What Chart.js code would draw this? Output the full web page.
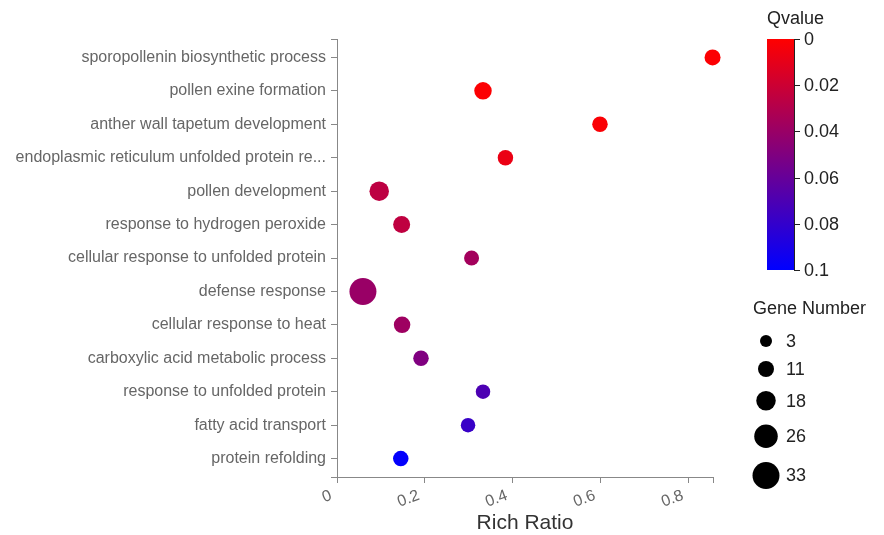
<!DOCTYPE html>
<html lang="en">
<head>
  <meta charset="UTF-8">
  <title>GO enrichment bubble chart</title>
  <script src="https://cdn.jsdelivr.net/npm/chart.js"></script>
  <style>
    body { margin: 0; background: #fff; }
    #wrap { width: 884px; height: 535px; }
  </style>
</head>
<body>
  <div id="wrap"><canvas id="chart"></canvas></div>

  <script>
    // data
    const terms = [
      'sporopollenin biosynthetic process',
      'pollen exine formation',
      'anther wall tapetum development',
      'endoplasmic reticulum unfolded protein re...',
      'pollen development',
      'response to hydrogen peroxide',
      'cellular response to unfolded protein',
      'defense response',
      'cellular response to heat',
      'carboxylic acid metabolic process',
      'response to unfolded protein',
      'fatty acid transport',
      'protein refolding'
    ];
    const richRatio = [0.854, 0.332, 0.598, 0.383, 0.096, 0.147, 0.306, 0.059, 0.148, 0.191, 0.332, 0.298, 0.145];
    const geneNumber = [11, 14, 10, 10, 18, 13, 9, 33, 12, 10, 8, 8, 10];
    const qValue = [0.001, 0.001, 0.002, 0.008, 0.026, 0.025, 0.036, 0.040, 0.038, 0.050, 0.070, 0.078, 0.099];

    const xTicks = [0, 0.2, 0.4, 0.6, 0.8];
    const qTicks = [0, 0.02, 0.04, 0.06, 0.08, 0.1];
    const sizeTicks = [3, 11, 18, 26, 33];

    const qMax = 0.1;
    const gMin = 3, gMax = 33;
    const font = '"Liberation Sans", Arial, sans-serif';

    function qColor(q) {
      const t = Math.max(0, Math.min(1, q / qMax));
      return 'rgb(' + Math.round(255 * (1 - t)) + ',0,' + Math.round(255 * t) + ')';
    }
    function geneRadius(n) {
      return 6 + (n - gMin) / (gMax - gMin) * 7.5;
    }

    // colour bar + size legend in the right margin
    const legendPlugin = {
      id: 'sideLegends',
      afterDraw(chart) {
        const ctx = chart.ctx;
        ctx.save();

        // Qvalue colour bar
        const barX = 767, barW = 27, barTop = 39, barBot = 270;
        const grad = ctx.createLinearGradient(0, barTop, 0, barBot);
        grad.addColorStop(0, qColor(0));
        grad.addColorStop(1, qColor(qMax));
        ctx.fillStyle = grad;
        ctx.fillRect(barX, barTop, barW, barBot - barTop);

        ctx.strokeStyle = '#222';
        ctx.lineWidth = 1;
        ctx.beginPath();
        ctx.moveTo(barX + barW + 0.5, barTop);
        ctx.lineTo(barX + barW + 0.5, barBot);
        ctx.stroke();

        ctx.fillStyle = '#222';
        ctx.font = '18px ' + font;
        ctx.textBaseline = 'middle';
        ctx.textAlign = 'left';
        ctx.fillText('Qvalue', barX, 19);
        qTicks.forEach(v => {
          const y = Math.round(barTop + (v / qMax) * (barBot - barTop)) + 0.5;
          ctx.beginPath();
          ctx.moveTo(barX + barW, y);
          ctx.lineTo(barX + barW + 6, y);
          ctx.stroke();
          ctx.fillText(String(v), barX + barW + 10, y + 1);
        });

        // Gene Number size legend
        ctx.fillText('Gene Number', 753, 309);
        let y = 341;
        sizeTicks.forEach((v, i) => {
          const r = geneRadius(v);
          if (i > 0) y += geneRadius(sizeTicks[i - 1]) + r + 14;
          ctx.fillStyle = '#000';
          ctx.beginPath();
          ctx.arc(766, y, r, 0, Math.PI * 2);
          ctx.fill();
          ctx.fillStyle = '#222';
          ctx.fillText(String(v), 786, y + 1);
        });

        ctx.restore();
      }
    };

    // outer ticks at the ends of the y axis
    const endTicks = {
      id: 'endTicks',
      afterDraw(chart) {
        const ctx = chart.ctx, ys = chart.scales.y;
        ctx.save();
        ctx.strokeStyle = '#888';
        ctx.lineWidth = 1;
        [ys.top, ys.bottom].forEach(p => {
          const y = Math.round(p) + 0.5;
          ctx.beginPath();
          ctx.moveTo(ys.right - 6, y);
          ctx.lineTo(ys.right, y);
          ctx.stroke();
        });
        ctx.restore();
      }
    };

    new Chart(document.getElementById('chart'), {
      type: 'bubble',
      data: {
        datasets: [{
          data: terms.map((t, i) => ({ x: richRatio[i], y: i, r: geneRadius(geneNumber[i]) })),
          backgroundColor: c => qColor(qValue[c.dataIndex]),
          borderWidth: 0,
          clip: false
        }]
      },
      options: {
        responsive: true,
        maintainAspectRatio: false,
        animation: false,
        layout: { padding: { top: 39, right: 171, left: 0, bottom: 0 } },
        plugins: { legend: { display: false }, tooltip: { enabled: false } },
        scales: {
          x: {
            type: 'linear',
            min: 0,
            max: Math.max(...richRatio) + 0.001,
            afterBuildTicks: s => { s.ticks = xTicks.concat([s.max]).map(v => ({ value: v })); },
            afterFit: s => { s.height = 58; },
            grid: { display: true, drawOnChartArea: false, color: '#888', tickLength: 6 },
            border: { color: '#888' },
            ticks: {
              autoSkip: false,
              minRotation: 20,
              maxRotation: 20,
              padding: 3,
              labelOffset: -6,
              color: '#666',
              font: { family: font, size: 16 },
              callback: v => xTicks.includes(v) ? String(v) : ''
            },
            title: {
              display: true,
              text: 'Rich Ratio',
              color: '#333',
              padding: { top: 0, bottom: 0 },
              font: { family: font, size: 21, lineHeight: 1.1 }
            }
          },
          y: {
            type: 'linear',
            reverse: true,
            min: -0.55,
            max: terms.length - 0.45,
            afterBuildTicks: s => { s.ticks = terms.map((t, i) => ({ value: i })); },
            afterFit: s => { s.width = 337; },
            grid: { display: true, drawOnChartArea: false, color: '#888', tickLength: 6 },
            border: { color: '#888' },
            ticks: {
              autoSkip: false,
              padding: 5,
              color: '#666',
              font: { family: font, size: 16 },
              callback: v => terms[v] || ''
            }
          }
        }
      },
      plugins: [legendPlugin, endTicks]
    });
  </script>
</body>
</html>
